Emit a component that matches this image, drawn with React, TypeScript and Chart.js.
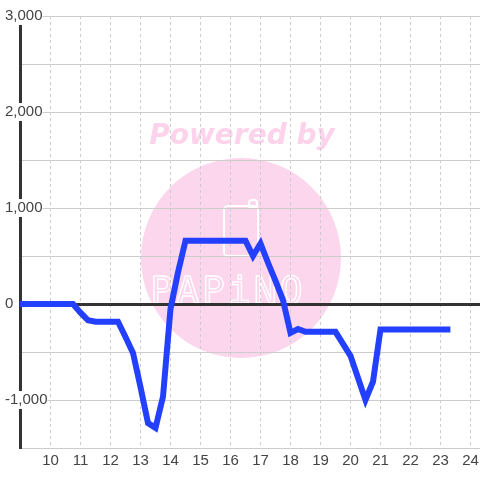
import React, { useEffect, useRef } from 'react';
import { Chart, registerables } from 'chart.js';

Chart.register(...registerables);

// Hours of day (x) and values (y)
const xValues = [8.983, 10.75, 11.0, 11.25, 11.5, 12.25, 12.5, 12.75, 13.0, 13.25, 13.5, 13.75, 14.0, 14.25, 14.5, 16.5, 16.75, 17.0, 17.25, 17.5, 17.75, 18.0, 18.25, 18.5, 19.5, 20.0, 20.5, 20.75, 21.0, 23.33];
const yValues = [0, 0, -90, -170, -185, -185, -344, -510, -865, -1240, -1290, -965, -50, 330, 660, 660, 500, 630, 430, 240, 40, -300, -260, -290, -290, -540, -1000, -810, -265, -265];

const xTicks = [10, 11, 12, 13, 14, 15, 16, 17, 18, 19, 20, 21, 22, 23, 24];
const X_MIN = 8.983;
const X_MAX = 24.317;
const Y_MIN = -1500;
const Y_MAX = 3000;
const Y_STEP = 500;

const FONT = "'Liberation Sans', Arial, sans-serif";

export default function App() {
  const ref = useRef<HTMLCanvasElement>(null);

  useEffect(() => {
    document.body.style.margin = '0';
    const watermark = {
      id: 'watermark',
      beforeDraw(chart: any) {
        const { ctx, chartArea } = chart;
        const w = chartArea.right - chartArea.left;
        const h = chartArea.bottom - chartArea.top;
        const cx = chartArea.left + w * 0.4804;
        const cy = chartArea.top + h * 0.5602;
        const r = h * 0.2315;
        ctx.save();
        ctx.fillStyle = '#fcd6ec';
        ctx.beginPath();
        ctx.arc(cx, cy, r, 0, Math.PI * 2);
        ctx.fill();
        ctx.font = "italic bold 28px 'DejaVu Sans'";
        ctx.textAlign = 'center';
        ctx.textBaseline = 'alphabetic';
        ctx.fillStyle = '#fcd3ea';
        ctx.fillText('Powered by', cx + 1, cy - 114);
        // phone icon
        ctx.strokeStyle = '#ffffff';
        ctx.lineWidth = 2;
        ctx.beginPath();
        (ctx as any).roundRect(cx - 17, cy - 52, 34, 50, 4);
        ctx.stroke();
        ctx.beginPath();
        (ctx as any).roundRect(cx + 8, cy - 58, 8, 8, [3, 3, 0, 0]);
        ctx.stroke();
        // brand text
        ctx.font = "38px 'DejaVu Sans Mono'";
        (ctx as any).letterSpacing = '3px';
        ctx.lineWidth = 1.4;
        ctx.strokeText('PAPiNO', cx - 13, cy + 45);
        ctx.restore();
      },
    };

    const chart = new Chart(ref.current as HTMLCanvasElement, {
      type: 'line',
      data: {
        datasets: [
          {
            data: xValues.map((x, i) => ({ x, y: yValues[i] })),
            borderColor: '#2340ff',
            borderWidth: 6,
            pointRadius: 0,
            tension: 0,
            fill: false,
          },
        ],
      },
      options: {
        animation: false,
        responsive: false,
        devicePixelRatio: 1,
        layout: { padding: { left: 20, top: 16, right: 0, bottom: 0 } },
        plugins: { legend: { display: false }, tooltip: { enabled: false } },
        scales: {
          x: {
            type: 'linear',
            min: X_MIN,
            max: X_MAX,
            afterBuildTicks: (s: any) => {
              s.ticks = xTicks.map((v) => ({ value: v }));
            },
            afterFit: (s: any) => {
              s.paddingLeft = 0;
              s.paddingRight = 0;
              s.height = 32;
            },
            grid: { color: '#cccccc', lineWidth: 1, drawTicks: false },
            border: { color: '#cccccc', width: 1, dash: [3, 3] },
            ticks: {
              padding: 4,
              color: '#444',
              font: { family: FONT, size: 15 },
              autoSkip: false,
              maxRotation: 0,
              callback: (v: any) => String(v),
            },
          },
          y: {
            type: 'linear',
            min: Y_MIN,
            max: Y_MAX,
            afterFit: (s: any) => {
              s.width = 0;
              s.paddingTop = 0;
              s.paddingBottom = 0;
            },
            grid: {
              color: (c: any) => (c.tick && c.tick.value === 0 ? '#333333' : '#cccccc'),
              lineWidth: (c: any) => (c.tick && c.tick.value === 0 ? 3 : 1),
              drawTicks: false,
            },
            border: { color: '#333333', width: 3 },
            ticks: {
              stepSize: Y_STEP,
              mirror: true,
              padding: -15,
              color: '#444',
              font: { family: FONT, size: 15 },
              showLabelBackdrop: true,
              backdropColor: '#ffffff',
              backdropPadding: 0,
              callback: (v: any) => (v % 1000 === 0 ? Number(v).toLocaleString('en-US') : ''),
            },
          },
        },
      } as any,
      plugins: [watermark],
    });
    return () => chart.destroy();
  }, []);

  return <canvas ref={ref} width={480} height={480} style={{ display: 'block' }} />;
}
